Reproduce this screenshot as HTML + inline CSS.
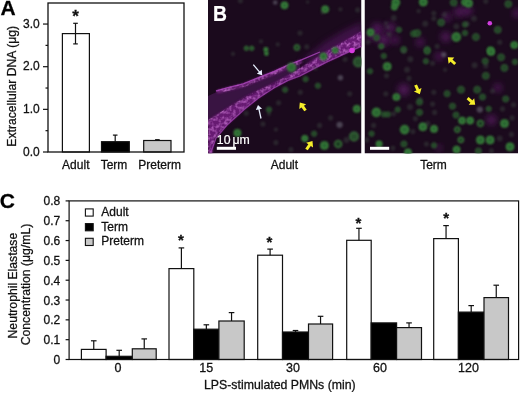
<!DOCTYPE html>
<html><head><meta charset="utf-8">
<style>
html,body{margin:0;padding:0;background:#fff;}
body{width:520px;height:393px;overflow:hidden;}
svg{display:block;font-family:"Liberation Sans",sans-serif;will-change:transform;}
text{stroke:#111;stroke-width:0.28px;}
text[fill="#fff"]{stroke:#fff;stroke-width:0.2px;}
</style></head><body>
<svg width="520" height="393" viewBox="0 0 520 393">
<defs>
<filter id="b1" x="-50%" y="-50%" width="200%" height="200%"><feGaussianBlur stdDeviation="0.6"/></filter>
<filter id="bc" x="-50%" y="-50%" width="200%" height="200%"><feGaussianBlur stdDeviation="0.85"/></filter>
<filter id="speck" x="0" y="0" width="100%" height="100%"><feTurbulence type="fractalNoise" baseFrequency="0.28" numOctaves="2" seed="7"/><feColorMatrix type="matrix" values="0 0 0 0 0.64  0 0 0 0 0.2  0 0 0 0 0.7  0 0 0 1.7 -0.68"/><feComposite in2="SourceAlpha" operator="in"/><feGaussianBlur stdDeviation="0.65"/></filter>
<filter id="b2" x="-50%" y="-50%" width="200%" height="200%"><feGaussianBlur stdDeviation="1.5"/></filter>
<filter id="b3" x="-50%" y="-50%" width="200%" height="200%"><feGaussianBlur stdDeviation="3"/></filter>
<clipPath id="cl"><rect x="208" y="0" width="153.5" height="153.5"/></clipPath>
<clipPath id="cr"><rect x="364.5" y="0" width="153.5" height="153.5"/></clipPath>
</defs>
<g id="panelB">
<g clip-path="url(#cl)">
<rect x="208" y="0" width="153.5" height="153.5" fill="#1b0a1d"/>
<polygon points="300,62 325,42 345,30 362,22 362,44 340,52 320,62" fill="#4e1658" opacity="0.7" filter="url(#b3)"/>
<polygon points="208,96 219,91 245,86 273.8,74 300,63 300,71 273.8,83 245,97 227,108 208,120" fill="#3e1346" opacity="0.9" filter="url(#b1)"/>
<polygon points="208,120 227,108 245,97 258.5,90 273.8,83 288,75.3 300,68 327,51 362,31 362,46 327,62 300,76 288,80.6 273.8,88.2 258.5,98.2 245,109 227,125.3 215,138 212,154 208,154" fill="#6c1e78" opacity="0.95" filter="url(#bc)"/>
<polyline points="217,92 228,89 243.3,85.2 258.5,79.1 273.8,73 288,66.5 302,61" fill="none" stroke="#6e2078" stroke-width="3.6" opacity="0.95" filter="url(#bc)"/>
<polygon points="208,120 227,108 245,97 258.5,90 273.8,83 288,75.3 300,68 327,51 362,31 362,46 327,62 300,76 288,80.6 273.8,88.2 258.5,98.2 245,109 227,125.3 215,138 212,154 208,154" fill="#fff" filter="url(#speck)"/>
<polyline points="217,92 228,89 243.3,85.2 258.5,79.1 273.8,73 288,66.5 302,61" fill="none" stroke="#fff" stroke-width="3.6" filter="url(#speck)"/>
<polyline points="216,91 228,87.6 243.3,83.8 258.5,77.7 273.8,71.6 288,65.1 302,59.6 320,52" fill="none" stroke="#b048c0" stroke-width="1.3" opacity="0.8" filter="url(#b1)"/>
<polyline points="211,152 216,138 227,125 245,108.8 258.5,98 273.8,88 288,80.4 300,75.8 327,61.8 362,45.8" fill="none" stroke="#a844b8" stroke-width="1.3" opacity="0.7" filter="url(#b1)"/>
<circle cx="352" cy="50.5" r="2.8" fill="#d83ce0" filter="url(#b1)"/>
<circle cx="240.4" cy="0.7" r="2.55" fill="#44564a" opacity="0.36" filter="url(#bc)"/>
<circle cx="246.4" cy="48.3" r="2.00" fill="#1e3a22" stroke="#3f8c40" stroke-width="1" filter="url(#bc)"/>
<circle cx="251.7" cy="48.3" r="2.00" fill="#1e3a22" stroke="#3f8c40" stroke-width="1" filter="url(#bc)"/>
<circle cx="284.5" cy="5.3" r="3.8" fill="#1c4a20" opacity="0.5" filter="url(#b2)"/><circle cx="284.5" cy="5.3" r="2.98" fill="#2a6630" stroke="#3f8c40" stroke-width="1.2" filter="url(#bc)"/>
<circle cx="275.2" cy="2.6" r="2.25" fill="#72727e" opacity="0.55" filter="url(#bc)"/>
<circle cx="265.9" cy="49.6" r="2.3" fill="#1c4a20" opacity="0.5" filter="url(#b2)"/><circle cx="265.9" cy="49.6" r="1.70" fill="#2a6630" stroke="#3f8c40" stroke-width="1.2" filter="url(#bc)"/>
<circle cx="266.4" cy="53.6" r="2.1" fill="#1c4a20" opacity="0.5" filter="url(#b2)"/><circle cx="266.4" cy="53.6" r="1.53" fill="#2a6630" stroke="#3f8c40" stroke-width="1.2" filter="url(#bc)"/>
<circle cx="296.9" cy="47.5" r="2.80" fill="#1e3a22" stroke="#3f8c40" stroke-width="1" filter="url(#bc)"/>
<circle cx="300" cy="33" r="2.55" fill="#44564a" opacity="0.36" filter="url(#bc)"/>
<circle cx="306.8" cy="46.7" r="2.55" fill="#44564a" opacity="0.36" filter="url(#bc)"/>
<circle cx="261" cy="41.4" r="2.12" fill="#44564a" opacity="0.36" filter="url(#bc)"/>
<circle cx="277.8" cy="44.4" r="2.12" fill="#44564a" opacity="0.36" filter="url(#bc)"/>
<circle cx="307.6" cy="2" r="1.70" fill="#44564a" opacity="0.36" filter="url(#bc)"/>
<circle cx="233" cy="53.9" r="2.12" fill="#44564a" opacity="0.36" filter="url(#bc)"/>
<circle cx="325.2" cy="9.3" r="3.8" fill="#1c4a20" opacity="0.5" filter="url(#b2)"/><circle cx="325.2" cy="9.3" r="2.98" fill="#2a6630" stroke="#3f8c40" stroke-width="1.2" filter="url(#bc)"/>
<circle cx="322.6" cy="12.6" r="2.12" fill="#44564a" opacity="0.36" filter="url(#bc)"/>
<circle cx="357.6" cy="9.9" r="2.55" fill="#44564a" opacity="0.36" filter="url(#bc)"/>
<circle cx="340.4" cy="9.3" r="2.12" fill="#44564a" opacity="0.36" filter="url(#bc)"/>
<circle cx="335.1" cy="50.3" r="3.3" fill="#1c4a20" opacity="0.5" filter="url(#b2)"/><circle cx="335.1" cy="50.3" r="2.55" fill="#2a6630" stroke="#3f8c40" stroke-width="1.2" filter="url(#bc)"/>
<circle cx="323.4" cy="56.4" r="3.8" fill="#1c4a20" opacity="0.5" filter="url(#b2)"/><circle cx="323.4" cy="56.4" r="2.98" fill="#2a6630" stroke="#3f8c40" stroke-width="1.2" filter="url(#bc)"/>
<circle cx="358.3" cy="61.9" r="4.67" fill="#274c2c" stroke="#386e3a" stroke-width="1.3" filter="url(#bc)"/>
<circle cx="345.1" cy="59.3" r="2.55" fill="#44564a" opacity="0.36" filter="url(#bc)"/>
<circle cx="340.4" cy="77.8" r="2.70" fill="#72727e" opacity="0.55" filter="url(#bc)"/>
<circle cx="317.9" cy="85.7" r="2.55" fill="#25502a" stroke="#336c36" stroke-width="1" opacity="0.85" filter="url(#bc)"/>
<circle cx="315.3" cy="68.5" r="2.12" fill="#44564a" opacity="0.36" filter="url(#bc)"/>
<circle cx="349.7" cy="93.7" r="2.55" fill="#44564a" opacity="0.36" filter="url(#bc)"/>
<circle cx="291.4" cy="67.3" r="4.8" fill="#1c4a20" opacity="0.5" filter="url(#b2)"/><circle cx="291.4" cy="67.3" r="3.82" fill="#2a6630" stroke="#3f8c40" stroke-width="1.2" filter="url(#bc)"/>
<circle cx="305.6" cy="79.1" r="2.55" fill="#25502a" stroke="#336c36" stroke-width="1" opacity="0.85" filter="url(#bc)"/>
<circle cx="285.1" cy="89.7" r="2.55" fill="#25502a" stroke="#336c36" stroke-width="1" opacity="0.85" filter="url(#bc)"/>
<circle cx="300.3" cy="92.3" r="2.55" fill="#44564a" opacity="0.36" filter="url(#bc)"/>
<circle cx="278.6" cy="102.8" r="2.55" fill="#44564a" opacity="0.36" filter="url(#bc)"/>
<circle cx="269" cy="109.6" r="2.55" fill="#25502a" stroke="#336c36" stroke-width="1" opacity="0.85" filter="url(#bc)"/>
<circle cx="269" cy="113.8" r="2.12" fill="#44564a" opacity="0.36" filter="url(#bc)"/>
<circle cx="275.9" cy="142.6" r="2.55" fill="#44564a" opacity="0.36" filter="url(#bc)"/>
<circle cx="304.8" cy="138.5" r="3.3" fill="#1c4a20" opacity="0.5" filter="url(#b2)"/><circle cx="304.8" cy="138.5" r="2.55" fill="#2a6630" stroke="#3f8c40" stroke-width="1.2" filter="url(#bc)"/>
<circle cx="275.9" cy="129.6" r="2.12" fill="#44564a" opacity="0.36" filter="url(#bc)"/>
<circle cx="291" cy="149.5" r="2.55" fill="#44564a" opacity="0.36" filter="url(#bc)"/>
<circle cx="246.2" cy="113.3" r="2.55" fill="#44564a" opacity="0.36" filter="url(#bc)"/>
<circle cx="262.9" cy="124" r="2.55" fill="#44564a" opacity="0.36" filter="url(#bc)"/>
<circle cx="356.8" cy="108.9" r="3.8" fill="#1c4a20" opacity="0.5" filter="url(#b2)"/><circle cx="356.8" cy="108.9" r="2.98" fill="#2a6630" stroke="#3f8c40" stroke-width="1.2" filter="url(#bc)"/>
<circle cx="330.6" cy="117.9" r="2.55" fill="#44564a" opacity="0.36" filter="url(#bc)"/>
<circle cx="339.6" cy="124.8" r="3.15" fill="#72727e" opacity="0.55" filter="url(#bc)"/>
<circle cx="319.6" cy="125.4" r="2.55" fill="#44564a" opacity="0.36" filter="url(#bc)"/>
<circle cx="314.1" cy="133.7" r="2.55" fill="#25502a" stroke="#336c36" stroke-width="1" opacity="0.85" filter="url(#bc)"/>
<circle cx="354" cy="136.5" r="4.25" fill="#274c2c" stroke="#386e3a" stroke-width="1.3" filter="url(#bc)"/>
<circle cx="346.5" cy="139.9" r="2.98" fill="#44564a" opacity="0.36" filter="url(#bc)"/>
<circle cx="324.4" cy="145.4" r="4.3" fill="#1c4a20" opacity="0.5" filter="url(#b2)"/><circle cx="324.4" cy="145.4" r="3.40" fill="#2a6630" stroke="#3f8c40" stroke-width="1.2" filter="url(#bc)"/>
<circle cx="338.2" cy="144" r="3.60" fill="#1e3a22" stroke="#3f8c40" stroke-width="1" filter="url(#bc)"/>
<circle cx="237.4" cy="132.9" r="3.8" fill="#1c4a20" opacity="0.5" filter="url(#b2)"/><circle cx="237.4" cy="132.9" r="2.98" fill="#2a6630" stroke="#3f8c40" stroke-width="1.2" filter="url(#bc)"/>
<line x1="253.30" y1="64.60" x2="259.63" y2="72.14" stroke="#e8f0ff" stroke-width="1.3"/><polygon points="262.20,75.20 256.86,73.81 261.76,69.70" fill="#e8f0ff"/>
<line x1="261.00" y1="118.50" x2="258.87" y2="108.90" stroke="#e8f0ff" stroke-width="1.3"/><polygon points="258.00,105.00 262.10,108.70 255.85,110.09" fill="#e8f0ff"/>
<line x1="305.50" y1="110.50" x2="302.41" y2="106.16" stroke="#f6ee2a" stroke-width="3"/><polygon points="299.80,102.50 306.12,104.13 299.28,109.01" fill="#f6ee2a"/>
<line x1="306.50" y1="149.50" x2="309.90" y2="144.68" stroke="#f6ee2a" stroke-width="3"/><polygon points="312.50,141.00 313.05,147.51 306.19,142.66" fill="#f6ee2a"/>
<rect x="216.8" y="146.8" width="19.2" height="3" fill="#fff"/>
<text x="216.8" y="143.8" font-size="12.3" fill="#fff">10</text><text x="232.4" y="143.8" font-size="12.3" fill="#fff">μm</text>
</g>
<g clip-path="url(#cr)">
<rect x="364.5" y="0" width="153.5" height="153.5" fill="#1b0a1d"/>
<circle cx="377.2" cy="29.1" r="6" fill="#5a1e64" opacity="0.8" filter="url(#b3)"/>
<circle cx="383.8" cy="39.7" r="6" fill="#5a1e64" opacity="0.8" filter="url(#b3)"/>
<circle cx="390.5" cy="27.8" r="5" fill="#5a1e64" opacity="0.8" filter="url(#b3)"/>
<circle cx="445.8" cy="37" r="5" fill="#5a1e64" opacity="0.8" filter="url(#b3)"/>
<circle cx="459" cy="11.9" r="5" fill="#5a1e64" opacity="0.8" filter="url(#b3)"/>
<circle cx="420" cy="42.3" r="4" fill="#5a1e64" opacity="0.8" filter="url(#b3)"/>
<circle cx="447" cy="17.2" r="4" fill="#5a1e64" opacity="0.8" filter="url(#b3)"/>
<circle cx="467.3" cy="10.6" r="5" fill="#5a1e64" opacity="0.8" filter="url(#b3)"/>
<circle cx="517" cy="13.2" r="4" fill="#5a1e64" opacity="0.8" filter="url(#b3)"/>
<circle cx="403.7" cy="89.7" r="6" fill="#5a1e64" opacity="0.8" filter="url(#b3)"/>
<circle cx="439.1" cy="56.6" r="4" fill="#5a1e64" opacity="0.8" filter="url(#b3)"/>
<circle cx="497.8" cy="87.7" r="4" fill="#5a1e64" opacity="0.8" filter="url(#b3)"/>
<circle cx="491.4" cy="119.9" r="5" fill="#5a1e64" opacity="0.8" filter="url(#b3)"/>
<circle cx="438.8" cy="148.1" r="3" fill="#5a1e64" opacity="0.8" filter="url(#b3)"/>
<circle cx="372" cy="36" r="5" fill="#5a1e64" opacity="0.8" filter="url(#b3)"/>
<circle cx="395" cy="40" r="4" fill="#5a1e64" opacity="0.8" filter="url(#b3)"/>
<circle cx="489.8" cy="23.2" r="2.3" fill="#d23ce0" filter="url(#b1)"/>
<circle cx="395.8" cy="2.6" r="4.3" fill="#1c4a20" opacity="0.5" filter="url(#b2)"/><circle cx="395.8" cy="2.6" r="3.40" fill="#2a6630" stroke="#3f8c40" stroke-width="1.2" filter="url(#bc)"/>
<circle cx="394.4" cy="7" r="3.3" fill="#1c4a20" opacity="0.5" filter="url(#b2)"/><circle cx="394.4" cy="7" r="2.55" fill="#2a6630" stroke="#3f8c40" stroke-width="1.2" filter="url(#bc)"/>
<circle cx="393.8" cy="17.9" r="2.98" fill="#44564a" opacity="0.36" filter="url(#bc)"/>
<circle cx="385.8" cy="23.2" r="2.12" fill="#44564a" opacity="0.36" filter="url(#bc)"/>
<circle cx="387.8" cy="27.1" r="2.12" fill="#44564a" opacity="0.36" filter="url(#bc)"/>
<circle cx="370.6" cy="32.4" r="3.8" fill="#1c4a20" opacity="0.5" filter="url(#b2)"/><circle cx="370.6" cy="32.4" r="2.98" fill="#2a6630" stroke="#3f8c40" stroke-width="1.2" filter="url(#bc)"/>
<circle cx="376.6" cy="37.7" r="2.98" fill="#25502a" stroke="#336c36" stroke-width="1" opacity="0.85" filter="url(#bc)"/>
<circle cx="399" cy="29.8" r="2.55" fill="#25502a" stroke="#336c36" stroke-width="1" opacity="0.85" filter="url(#bc)"/>
<circle cx="413.6" cy="33.7" r="2.98" fill="#25502a" stroke="#336c36" stroke-width="1" opacity="0.85" filter="url(#bc)"/>
<circle cx="381.2" cy="46.3" r="2.40" fill="#1e3a22" stroke="#3f8c40" stroke-width="1" filter="url(#bc)"/>
<circle cx="403.7" cy="49.6" r="2.98" fill="#25502a" stroke="#336c36" stroke-width="1" opacity="0.85" filter="url(#bc)"/>
<circle cx="368" cy="42.3" r="2.55" fill="#44564a" opacity="0.36" filter="url(#bc)"/>
<circle cx="389.1" cy="34.4" r="2.55" fill="#44564a" opacity="0.36" filter="url(#bc)"/>
<circle cx="423.3" cy="2" r="4.3" fill="#1c4a20" opacity="0.5" filter="url(#b2)"/><circle cx="423.3" cy="2" r="3.40" fill="#2a6630" stroke="#3f8c40" stroke-width="1.2" filter="url(#bc)"/>
<circle cx="453.7" cy="2.6" r="3.40" fill="#25502a" stroke="#336c36" stroke-width="1" opacity="0.85" filter="url(#bc)"/>
<circle cx="465" cy="2" r="3.8" fill="#1c4a20" opacity="0.5" filter="url(#b2)"/><circle cx="465" cy="2" r="2.98" fill="#2a6630" stroke="#3f8c40" stroke-width="1.2" filter="url(#bc)"/>
<circle cx="418.6" cy="11.2" r="2.12" fill="#44564a" opacity="0.36" filter="url(#bc)"/>
<circle cx="433.8" cy="13.2" r="2.55" fill="#44564a" opacity="0.36" filter="url(#bc)"/>
<circle cx="433.8" cy="18.5" r="2.55" fill="#44564a" opacity="0.36" filter="url(#bc)"/>
<circle cx="444.4" cy="14.6" r="2.55" fill="#44564a" opacity="0.36" filter="url(#bc)"/>
<circle cx="425.2" cy="23.8" r="2.98" fill="#44564a" opacity="0.36" filter="url(#bc)"/>
<circle cx="441.1" cy="22.5" r="3.40" fill="#25502a" stroke="#336c36" stroke-width="1" opacity="0.85" filter="url(#bc)"/>
<circle cx="456.3" cy="26.5" r="2.98" fill="#44564a" opacity="0.36" filter="url(#bc)"/>
<circle cx="465" cy="24.5" r="2.55" fill="#25502a" stroke="#336c36" stroke-width="1" opacity="0.85" filter="url(#bc)"/>
<circle cx="417.3" cy="33.1" r="3.40" fill="#25502a" stroke="#336c36" stroke-width="1" opacity="0.85" filter="url(#bc)"/>
<circle cx="456.3" cy="37" r="4.8" fill="#1c4a20" opacity="0.5" filter="url(#b2)"/><circle cx="456.3" cy="37" r="3.82" fill="#2a6630" stroke="#3f8c40" stroke-width="1.2" filter="url(#bc)"/>
<circle cx="465" cy="33" r="2.55" fill="#25502a" stroke="#336c36" stroke-width="1" opacity="0.85" filter="url(#bc)"/>
<circle cx="427.2" cy="49.6" r="2.98" fill="#25502a" stroke="#336c36" stroke-width="1" opacity="0.85" filter="url(#bc)"/>
<circle cx="437.2" cy="46.3" r="2.55" fill="#44564a" opacity="0.36" filter="url(#bc)"/>
<circle cx="468.6" cy="3.3" r="4.3" fill="#1c4a20" opacity="0.5" filter="url(#b2)"/><circle cx="468.6" cy="3.3" r="3.40" fill="#2a6630" stroke="#3f8c40" stroke-width="1.2" filter="url(#bc)"/>
<circle cx="485.8" cy="1.3" r="2.55" fill="#44564a" opacity="0.36" filter="url(#bc)"/>
<circle cx="508.3" cy="4" r="3.40" fill="#25502a" stroke="#336c36" stroke-width="1" opacity="0.85" filter="url(#bc)"/>
<circle cx="474" cy="18.5" r="2.98" fill="#44564a" opacity="0.36" filter="url(#bc)"/>
<circle cx="467.3" cy="23.8" r="2.55" fill="#44564a" opacity="0.36" filter="url(#bc)"/>
<circle cx="497.8" cy="29.8" r="3.40" fill="#25502a" stroke="#336c36" stroke-width="1" opacity="0.85" filter="url(#bc)"/>
<circle cx="475.9" cy="37" r="3.40" fill="#25502a" stroke="#336c36" stroke-width="1" opacity="0.85" filter="url(#bc)"/>
<circle cx="514.3" cy="45" r="3.8" fill="#1c4a20" opacity="0.5" filter="url(#b2)"/><circle cx="514.3" cy="45" r="2.98" fill="#2a6630" stroke="#3f8c40" stroke-width="1.2" filter="url(#bc)"/>
<circle cx="490.5" cy="50.3" r="3.8" fill="#1c4a20" opacity="0.5" filter="url(#b2)"/><circle cx="490.5" cy="50.3" r="2.98" fill="#2a6630" stroke="#3f8c40" stroke-width="1.2" filter="url(#bc)"/>
<circle cx="499.7" cy="42.3" r="2.55" fill="#44564a" opacity="0.36" filter="url(#bc)"/>
<circle cx="383.8" cy="56" r="2.55" fill="#25502a" stroke="#336c36" stroke-width="1" opacity="0.85" filter="url(#bc)"/>
<circle cx="387.2" cy="66.5" r="4.3" fill="#1c4a20" opacity="0.5" filter="url(#b2)"/><circle cx="387.2" cy="66.5" r="3.40" fill="#2a6630" stroke="#3f8c40" stroke-width="1.2" filter="url(#bc)"/>
<circle cx="370" cy="71.2" r="2.55" fill="#25502a" stroke="#336c36" stroke-width="1" opacity="0.85" filter="url(#bc)"/>
<circle cx="386.5" cy="75.8" r="2.55" fill="#44564a" opacity="0.36" filter="url(#bc)"/>
<circle cx="403.7" cy="51.3" r="2.55" fill="#44564a" opacity="0.36" filter="url(#bc)"/>
<circle cx="410.3" cy="59.3" r="2.98" fill="#44564a" opacity="0.36" filter="url(#bc)"/>
<circle cx="407" cy="69.8" r="2.98" fill="#44564a" opacity="0.36" filter="url(#bc)"/>
<circle cx="409" cy="78.4" r="2.55" fill="#44564a" opacity="0.36" filter="url(#bc)"/>
<circle cx="385.8" cy="93.7" r="2.55" fill="#44564a" opacity="0.36" filter="url(#bc)"/>
<circle cx="396.4" cy="97" r="3.8" fill="#1c4a20" opacity="0.5" filter="url(#b2)"/><circle cx="396.4" cy="97" r="2.98" fill="#2a6630" stroke="#3f8c40" stroke-width="1.2" filter="url(#bc)"/>
<circle cx="427.2" cy="51.3" r="2.98" fill="#25502a" stroke="#336c36" stroke-width="1" opacity="0.85" filter="url(#bc)"/>
<circle cx="443.8" cy="54.6" r="2.70" fill="#72727e" opacity="0.55" filter="url(#bc)"/>
<circle cx="425.9" cy="61.2" r="2.55" fill="#25502a" stroke="#336c36" stroke-width="1" opacity="0.85" filter="url(#bc)"/>
<circle cx="432.5" cy="63.2" r="2.55" fill="#44564a" opacity="0.36" filter="url(#bc)"/>
<circle cx="445.1" cy="69.8" r="2.12" fill="#44564a" opacity="0.36" filter="url(#bc)"/>
<circle cx="461" cy="89.7" r="3.40" fill="#25502a" stroke="#336c36" stroke-width="1" opacity="0.85" filter="url(#bc)"/>
<circle cx="447.1" cy="93.7" r="2.98" fill="#25502a" stroke="#336c36" stroke-width="1" opacity="0.85" filter="url(#bc)"/>
<circle cx="420" cy="99.6" r="2.55" fill="#44564a" opacity="0.36" filter="url(#bc)"/>
<circle cx="433.8" cy="92.3" r="2.55" fill="#44564a" opacity="0.36" filter="url(#bc)"/>
<circle cx="491.1" cy="52" r="3.8" fill="#1c4a20" opacity="0.5" filter="url(#b2)"/><circle cx="491.1" cy="52" r="2.98" fill="#2a6630" stroke="#3f8c40" stroke-width="1.2" filter="url(#bc)"/>
<circle cx="501.1" cy="57.3" r="3.40" fill="#25502a" stroke="#336c36" stroke-width="1" opacity="0.85" filter="url(#bc)"/>
<circle cx="515" cy="61.9" r="2.55" fill="#25502a" stroke="#336c36" stroke-width="1" opacity="0.85" filter="url(#bc)"/>
<circle cx="485.2" cy="61.2" r="2.98" fill="#25502a" stroke="#336c36" stroke-width="1" opacity="0.85" filter="url(#bc)"/>
<circle cx="474.6" cy="65.2" r="2.98" fill="#44564a" opacity="0.36" filter="url(#bc)"/>
<circle cx="485.8" cy="65.9" r="2.55" fill="#44564a" opacity="0.36" filter="url(#bc)"/>
<circle cx="504.4" cy="67.9" r="3.40" fill="#25502a" stroke="#336c36" stroke-width="1" opacity="0.85" filter="url(#bc)"/>
<circle cx="485.8" cy="75.8" r="3.40" fill="#25502a" stroke="#336c36" stroke-width="1" opacity="0.85" filter="url(#bc)"/>
<circle cx="477.2" cy="89.7" r="3.40" fill="#25502a" stroke="#336c36" stroke-width="1" opacity="0.85" filter="url(#bc)"/>
<circle cx="482.5" cy="97" r="2.98" fill="#25502a" stroke="#336c36" stroke-width="1" opacity="0.85" filter="url(#bc)"/>
<circle cx="492.5" cy="91" r="2.55" fill="#44564a" opacity="0.36" filter="url(#bc)"/>
<circle cx="505.7" cy="99" r="2.98" fill="#25502a" stroke="#336c36" stroke-width="1" opacity="0.85" filter="url(#bc)"/>
<circle cx="376.4" cy="112.4" r="4.8" fill="#1c4a20" opacity="0.5" filter="url(#b2)"/><circle cx="376.4" cy="112.4" r="3.82" fill="#2a6630" stroke="#3f8c40" stroke-width="1.2" filter="url(#bc)"/>
<circle cx="384" cy="114.4" r="2.55" fill="#25502a" stroke="#336c36" stroke-width="1" opacity="0.85" filter="url(#bc)"/>
<circle cx="388" cy="114.4" r="2.55" fill="#25502a" stroke="#336c36" stroke-width="1" opacity="0.85" filter="url(#bc)"/>
<circle cx="397.7" cy="109.6" r="2.55" fill="#25502a" stroke="#336c36" stroke-width="1" opacity="0.85" filter="url(#bc)"/>
<circle cx="393.6" cy="113.8" r="2.55" fill="#44564a" opacity="0.36" filter="url(#bc)"/>
<circle cx="410" cy="106.9" r="2.98" fill="#44564a" opacity="0.36" filter="url(#bc)"/>
<circle cx="404.6" cy="129.6" r="4.8" fill="#1c4a20" opacity="0.5" filter="url(#b2)"/><circle cx="404.6" cy="129.6" r="3.82" fill="#2a6630" stroke="#3f8c40" stroke-width="1.2" filter="url(#bc)"/>
<circle cx="371.6" cy="133.7" r="2.55" fill="#25502a" stroke="#336c36" stroke-width="1" opacity="0.85" filter="url(#bc)"/>
<circle cx="373.6" cy="125.4" r="2.55" fill="#44564a" opacity="0.36" filter="url(#bc)"/>
<circle cx="379.1" cy="144" r="3.3" fill="#1c4a20" opacity="0.5" filter="url(#b2)"/><circle cx="379.1" cy="144" r="2.55" fill="#2a6630" stroke="#3f8c40" stroke-width="1.2" filter="url(#bc)"/>
<circle cx="403.9" cy="144" r="2.98" fill="#25502a" stroke="#336c36" stroke-width="1" opacity="0.85" filter="url(#bc)"/>
<circle cx="412.8" cy="131.6" r="2.55" fill="#44564a" opacity="0.36" filter="url(#bc)"/>
<circle cx="408" cy="152.3" r="3.8" fill="#1c4a20" opacity="0.5" filter="url(#b2)"/><circle cx="408" cy="152.3" r="2.98" fill="#2a6630" stroke="#3f8c40" stroke-width="1.2" filter="url(#bc)"/>
<circle cx="392.9" cy="148.1" r="2.55" fill="#44564a" opacity="0.36" filter="url(#bc)"/>
<circle cx="366.8" cy="139.9" r="2.55" fill="#44564a" opacity="0.36" filter="url(#bc)"/>
<circle cx="419.5" cy="102.1" r="2.98" fill="#25502a" stroke="#336c36" stroke-width="1" opacity="0.85" filter="url(#bc)"/>
<circle cx="432.6" cy="104.1" r="2.55" fill="#44564a" opacity="0.36" filter="url(#bc)"/>
<circle cx="419.5" cy="112.4" r="2.98" fill="#25502a" stroke="#336c36" stroke-width="1" opacity="0.85" filter="url(#bc)"/>
<circle cx="415.4" cy="118.6" r="2.55" fill="#44564a" opacity="0.36" filter="url(#bc)"/>
<circle cx="422.9" cy="126.8" r="4.3" fill="#1c4a20" opacity="0.5" filter="url(#b2)"/><circle cx="422.9" cy="126.8" r="3.40" fill="#2a6630" stroke="#3f8c40" stroke-width="1.2" filter="url(#bc)"/>
<circle cx="434" cy="128.9" r="3.8" fill="#1c4a20" opacity="0.5" filter="url(#b2)"/><circle cx="434" cy="128.9" r="2.98" fill="#2a6630" stroke="#3f8c40" stroke-width="1.2" filter="url(#bc)"/>
<circle cx="427.8" cy="123.4" r="2.55" fill="#44564a" opacity="0.36" filter="url(#bc)"/>
<circle cx="434.6" cy="112.4" r="2.55" fill="#44564a" opacity="0.36" filter="url(#bc)"/>
<circle cx="452.5" cy="106.2" r="2.98" fill="#25502a" stroke="#336c36" stroke-width="1" opacity="0.85" filter="url(#bc)"/>
<circle cx="456" cy="115.1" r="2.98" fill="#25502a" stroke="#336c36" stroke-width="1" opacity="0.85" filter="url(#bc)"/>
<circle cx="462.1" cy="120.6" r="3.8" fill="#1c4a20" opacity="0.5" filter="url(#b2)"/><circle cx="462.1" cy="120.6" r="2.98" fill="#2a6630" stroke="#3f8c40" stroke-width="1.2" filter="url(#bc)"/>
<circle cx="457.3" cy="129.6" r="2.80" fill="#1e3a22" stroke="#3f8c40" stroke-width="1" filter="url(#bc)"/>
<circle cx="460.8" cy="139.9" r="2.80" fill="#1e3a22" stroke="#3f8c40" stroke-width="1" filter="url(#bc)"/>
<circle cx="434" cy="145.4" r="2.55" fill="#25502a" stroke="#336c36" stroke-width="1" opacity="0.85" filter="url(#bc)"/>
<circle cx="456.6" cy="149.5" r="3.8" fill="#1c4a20" opacity="0.5" filter="url(#b2)"/><circle cx="456.6" cy="149.5" r="2.98" fill="#2a6630" stroke="#3f8c40" stroke-width="1.2" filter="url(#bc)"/>
<circle cx="426.4" cy="144" r="2.55" fill="#44564a" opacity="0.36" filter="url(#bc)"/>
<circle cx="479.8" cy="109.6" r="3.15" fill="#72727e" opacity="0.55" filter="url(#bc)"/>
<circle cx="488.7" cy="108.9" r="2.55" fill="#25502a" stroke="#336c36" stroke-width="1" opacity="0.85" filter="url(#bc)"/>
<circle cx="502.5" cy="108.9" r="2.55" fill="#44564a" opacity="0.36" filter="url(#bc)"/>
<circle cx="470.1" cy="120.6" r="3.8" fill="#1c4a20" opacity="0.5" filter="url(#b2)"/><circle cx="470.1" cy="120.6" r="2.98" fill="#2a6630" stroke="#3f8c40" stroke-width="1.2" filter="url(#bc)"/>
<circle cx="480.4" cy="123.4" r="3.20" fill="#1e3a22" stroke="#3f8c40" stroke-width="1" filter="url(#bc)"/>
<circle cx="504.5" cy="123.4" r="4.3" fill="#1c4a20" opacity="0.5" filter="url(#b2)"/><circle cx="504.5" cy="123.4" r="3.40" fill="#2a6630" stroke="#3f8c40" stroke-width="1.2" filter="url(#bc)"/>
<circle cx="512.1" cy="117.9" r="2.55" fill="#44564a" opacity="0.36" filter="url(#bc)"/>
<circle cx="480.4" cy="139.9" r="4.3" fill="#1c4a20" opacity="0.5" filter="url(#b2)"/><circle cx="480.4" cy="139.9" r="3.40" fill="#2a6630" stroke="#3f8c40" stroke-width="1.2" filter="url(#bc)"/>
<circle cx="490.1" cy="139.9" r="4.3" fill="#1c4a20" opacity="0.5" filter="url(#b2)"/><circle cx="490.1" cy="139.9" r="3.40" fill="#2a6630" stroke="#3f8c40" stroke-width="1.2" filter="url(#bc)"/>
<circle cx="499.7" cy="138.5" r="2.98" fill="#44564a" opacity="0.36" filter="url(#bc)"/>
<circle cx="511.4" cy="134.4" r="2.55" fill="#44564a" opacity="0.36" filter="url(#bc)"/>
<circle cx="510" cy="146.8" r="4.3" fill="#1c4a20" opacity="0.5" filter="url(#b2)"/><circle cx="510" cy="146.8" r="3.40" fill="#2a6630" stroke="#3f8c40" stroke-width="1.2" filter="url(#bc)"/>
<circle cx="478.4" cy="150.9" r="2.98" fill="#25502a" stroke="#336c36" stroke-width="1" opacity="0.85" filter="url(#bc)"/>
<circle cx="491.4" cy="150.9" r="2.55" fill="#44564a" opacity="0.36" filter="url(#bc)"/>
<circle cx="513.5" cy="104.8" r="2.55" fill="#44564a" opacity="0.36" filter="url(#bc)"/>
<line x1="455.20" y1="64.00" x2="451.11" y2="60.24" stroke="#f6ee2a" stroke-width="3"/><polygon points="447.80,57.20 454.32,57.49 448.64,63.68" fill="#f6ee2a"/>
<line x1="415.60" y1="85.00" x2="417.93" y2="90.11" stroke="#f6ee2a" stroke-width="3"/><polygon points="419.80,94.20 413.90,91.40 421.54,87.91" fill="#f6ee2a"/>
<line x1="467.60" y1="98.20" x2="471.80" y2="101.85" stroke="#f6ee2a" stroke-width="3"/><polygon points="475.20,104.80 468.67,104.69 474.18,98.35" fill="#f6ee2a"/>
<rect x="370" y="146.8" width="19.2" height="3" fill="#fff"/>
</g>
<text transform="translate(213.1,21) scale(0.86,1)" font-size="22.5" font-weight="bold" fill="#fff">B</text>
<g font-size="12" fill="#111" text-anchor="middle"><text x="284.4" y="169">Adult</text><text x="433.5" y="169">Term</text></g>
</g>
<g id="panelC">
<text x="-0.3" y="207.8" font-size="21" font-weight="bold" fill="#000">C</text>
<g stroke="#111" stroke-width="1.2">
<line x1="65.6" y1="359.50" x2="69.1" y2="359.50"/>
<line x1="65.6" y1="339.68" x2="69.1" y2="339.68"/>
<line x1="65.6" y1="319.85" x2="69.1" y2="319.85"/>
<line x1="65.6" y1="300.02" x2="69.1" y2="300.02"/>
<line x1="65.6" y1="280.20" x2="69.1" y2="280.20"/>
<line x1="65.6" y1="260.38" x2="69.1" y2="260.38"/>
<line x1="65.6" y1="240.55" x2="69.1" y2="240.55"/>
<line x1="65.6" y1="220.72" x2="69.1" y2="220.72"/>
<line x1="65.6" y1="200.90" x2="69.1" y2="200.90"/>
</g>
<g font-size="12" fill="#111" text-anchor="end">
<text x="60.3" y="364.00">0</text>
<text x="60.3" y="344.18">0.1</text>
<text x="60.3" y="324.35">0.2</text>
<text x="60.3" y="304.52">0.3</text>
<text x="60.3" y="284.70">0.4</text>
<text x="60.3" y="264.88">0.5</text>
<text x="60.3" y="245.05">0.6</text>
<text x="60.3" y="225.22">0.7</text>
<text x="60.3" y="205.40">0.8</text>
</g>
<text transform="translate(16.7,285.6) rotate(-90)" font-size="12.2" fill="#111" text-anchor="middle">Neutrophil Elastase</text>
<text transform="translate(29.7,284.5) rotate(-90)" font-size="12.2" fill="#111" text-anchor="middle">Concentration (μg/mL)</text>
<rect x="81.40" y="349.4" width="24.70" height="10.10" fill="#fff" stroke="#111" stroke-width="1.2"/>
<line x1="93.75" y1="340.8" x2="93.75" y2="349.4" stroke="#111" stroke-width="1.2"/>
<line x1="90.95" y1="340.8" x2="96.55" y2="340.8" stroke="#111" stroke-width="1.2"/>
<rect x="106.10" y="356.3" width="26.20" height="3.20" fill="#000" stroke="#111" stroke-width="1.2"/>
<line x1="119.20" y1="350.3" x2="119.20" y2="356.3" stroke="#111" stroke-width="1.2"/>
<line x1="116.40" y1="350.3" x2="122.00" y2="350.3" stroke="#111" stroke-width="1.2"/>
<rect x="132.30" y="348.8" width="23.90" height="10.70" fill="#c8c8c8" stroke="#111" stroke-width="1.2"/>
<line x1="144.25" y1="338.9" x2="144.25" y2="348.8" stroke="#111" stroke-width="1.2"/>
<line x1="141.45" y1="338.9" x2="147.05" y2="338.9" stroke="#111" stroke-width="1.2"/>
<text x="117.90" y="372.3" font-size="12.5" fill="#111" text-anchor="middle">0</text>
<rect x="169.00" y="268.6" width="24.80" height="90.90" fill="#fff" stroke="#111" stroke-width="1.2"/>
<line x1="181.40" y1="247.9" x2="181.40" y2="268.6" stroke="#111" stroke-width="1.2"/>
<line x1="178.60" y1="247.9" x2="184.20" y2="247.9" stroke="#111" stroke-width="1.2"/>
<rect x="193.80" y="329.2" width="25.10" height="30.30" fill="#000" stroke="#111" stroke-width="1.2"/>
<line x1="206.35" y1="324.8" x2="206.35" y2="329.2" stroke="#111" stroke-width="1.2"/>
<line x1="203.55" y1="324.8" x2="209.15" y2="324.8" stroke="#111" stroke-width="1.2"/>
<rect x="218.90" y="321.0" width="25.30" height="38.50" fill="#c8c8c8" stroke="#111" stroke-width="1.2"/>
<line x1="231.55" y1="312.6" x2="231.55" y2="321.0" stroke="#111" stroke-width="1.2"/>
<line x1="228.75" y1="312.6" x2="234.35" y2="312.6" stroke="#111" stroke-width="1.2"/>
<text x="180.80" y="245.20" font-size="15" font-weight="bold" fill="#111" text-anchor="middle">*</text>
<text x="206.20" y="372.3" font-size="12.5" fill="#111" text-anchor="middle">15</text>
<rect x="257.70" y="255.2" width="24.80" height="104.30" fill="#fff" stroke="#111" stroke-width="1.2"/>
<line x1="270.10" y1="249.1" x2="270.10" y2="255.2" stroke="#111" stroke-width="1.2"/>
<line x1="267.30" y1="249.1" x2="272.90" y2="249.1" stroke="#111" stroke-width="1.2"/>
<rect x="282.50" y="332.0" width="26.00" height="27.50" fill="#000" stroke="#111" stroke-width="1.2"/>
<line x1="295.50" y1="330.5" x2="295.50" y2="332.0" stroke="#111" stroke-width="1.2"/>
<line x1="292.70" y1="330.5" x2="298.30" y2="330.5" stroke="#111" stroke-width="1.2"/>
<rect x="308.50" y="324.0" width="24.10" height="35.50" fill="#c8c8c8" stroke="#111" stroke-width="1.2"/>
<line x1="320.55" y1="316.3" x2="320.55" y2="324.0" stroke="#111" stroke-width="1.2"/>
<line x1="317.75" y1="316.3" x2="323.35" y2="316.3" stroke="#111" stroke-width="1.2"/>
<text x="269.30" y="247.20" font-size="15" font-weight="bold" fill="#111" text-anchor="middle">*</text>
<text x="293.00" y="372.3" font-size="12.5" fill="#111" text-anchor="middle">30</text>
<rect x="346.70" y="240.3" width="24.50" height="119.20" fill="#fff" stroke="#111" stroke-width="1.2"/>
<line x1="358.95" y1="228.3" x2="358.95" y2="240.3" stroke="#111" stroke-width="1.2"/>
<line x1="356.15" y1="228.3" x2="361.75" y2="228.3" stroke="#111" stroke-width="1.2"/>
<rect x="371.20" y="322.9" width="25.40" height="36.60" fill="#000" stroke="#111" stroke-width="1.2"/>
<rect x="396.60" y="327.6" width="24.90" height="31.90" fill="#c8c8c8" stroke="#111" stroke-width="1.2"/>
<line x1="409.05" y1="322.9" x2="409.05" y2="327.6" stroke="#111" stroke-width="1.2"/>
<line x1="406.25" y1="322.9" x2="411.85" y2="322.9" stroke="#111" stroke-width="1.2"/>
<text x="358.50" y="227.60" font-size="15" font-weight="bold" fill="#111" text-anchor="middle">*</text>
<text x="380.00" y="372.3" font-size="12.5" fill="#111" text-anchor="middle">60</text>
<rect x="433.70" y="238.6" width="24.70" height="120.90" fill="#fff" stroke="#111" stroke-width="1.2"/>
<line x1="446.05" y1="225.6" x2="446.05" y2="238.6" stroke="#111" stroke-width="1.2"/>
<line x1="443.25" y1="225.6" x2="448.85" y2="225.6" stroke="#111" stroke-width="1.2"/>
<rect x="458.40" y="312.1" width="25.60" height="47.40" fill="#000" stroke="#111" stroke-width="1.2"/>
<line x1="471.20" y1="305.6" x2="471.20" y2="312.1" stroke="#111" stroke-width="1.2"/>
<line x1="468.40" y1="305.6" x2="474.00" y2="305.6" stroke="#111" stroke-width="1.2"/>
<rect x="484.00" y="297.6" width="24.50" height="61.90" fill="#c8c8c8" stroke="#111" stroke-width="1.2"/>
<line x1="496.25" y1="285.2" x2="496.25" y2="297.6" stroke="#111" stroke-width="1.2"/>
<line x1="493.45" y1="285.2" x2="499.05" y2="285.2" stroke="#111" stroke-width="1.2"/>
<text x="446.10" y="222.70" font-size="15" font-weight="bold" fill="#111" text-anchor="middle">*</text>
<text x="468.50" y="372.3" font-size="12.5" fill="#111" text-anchor="middle">120</text>
<rect x="69.1" y="200.9" width="449.50" height="158.60" fill="none" stroke="#111" stroke-width="1.2"/>
<rect x="85.4" y="208.90" width="7.8" height="7.2" fill="#fff" stroke="#111" stroke-width="1.1"/>
<text x="101.3" y="215.8" font-size="12" fill="#111">Adult</text>
<rect x="85.4" y="223.60" width="7.8" height="7.2" fill="#000" stroke="#111" stroke-width="1.1"/>
<text x="101.3" y="230.6" font-size="12" fill="#111">Term</text>
<rect x="85.4" y="238.30" width="7.8" height="7.2" fill="#c8c8c8" stroke="#111" stroke-width="1.1"/>
<text x="101.3" y="245.4" font-size="12" fill="#111">Preterm</text>
<text x="204" y="388.6" font-size="12.3" fill="#111">LPS-stimulated PMNs (min)</text>
</g>
<g id="panelA">
<text x="0.5" y="15.3" font-size="21" font-weight="bold" fill="#000">A</text>
<g stroke="#111" stroke-width="1.2">
<line x1="43" y1="152.00" x2="48" y2="152.00"/>
<line x1="43" y1="109.35" x2="48" y2="109.35"/>
<line x1="43" y1="66.70" x2="48" y2="66.70"/>
<line x1="43" y1="24.05" x2="48" y2="24.05"/>
<line x1="45.5" y1="130.68" x2="48" y2="130.68"/>
<line x1="45.5" y1="88.03" x2="48" y2="88.03"/>
<line x1="45.5" y1="45.38" x2="48" y2="45.38"/>
</g>
<g font-size="12" fill="#111" text-anchor="end">
<text x="39.7" y="155.60">0.0</text>
<text x="39.7" y="112.95">1.0</text>
<text x="39.7" y="70.30">2.0</text>
<text x="39.7" y="27.65">3.0</text>
</g>
<text transform="translate(15.6,86.3) rotate(-90)" font-size="12.2" fill="#111" text-anchor="middle">Extracellular DNA (μg)</text>
<rect x="62.4" y="33.6" width="27" height="118.4" fill="#fff" stroke="#111" stroke-width="1.2"/>
<rect x="101.5" y="141.7" width="27.8" height="10.3" fill="#000" stroke="#111" stroke-width="1.2"/>
<rect x="143.7" y="140.5" width="27.3" height="11.5" fill="#c8c8c8" stroke="#111" stroke-width="1.2"/>
<g stroke="#111" stroke-width="1.2">
<line x1="75.5" y1="23.3" x2="75.5" y2="43.9"/><line x1="73.2" y1="23.3" x2="77.8" y2="23.3"/><line x1="73.2" y1="43.9" x2="77.8" y2="43.9"/>
<line x1="115.2" y1="135.1" x2="115.2" y2="141.7"/><line x1="112.9" y1="135.1" x2="117.5" y2="135.1"/>
<line x1="155.1" y1="139.7" x2="159.7" y2="139.7"/>
</g>
<text x="75.60" y="22.43" font-size="17" font-weight="bold" fill="#111" text-anchor="middle">*</text>
<rect x="48" y="3" width="136" height="149" fill="none" stroke="#111" stroke-width="1.3"/>
<g font-size="12" fill="#111" text-anchor="middle">
<text x="75.8" y="169">Adult</text><text x="114" y="169">Term</text><text x="159.7" y="169">Preterm</text>
</g></g>
</svg>
</body></html>
